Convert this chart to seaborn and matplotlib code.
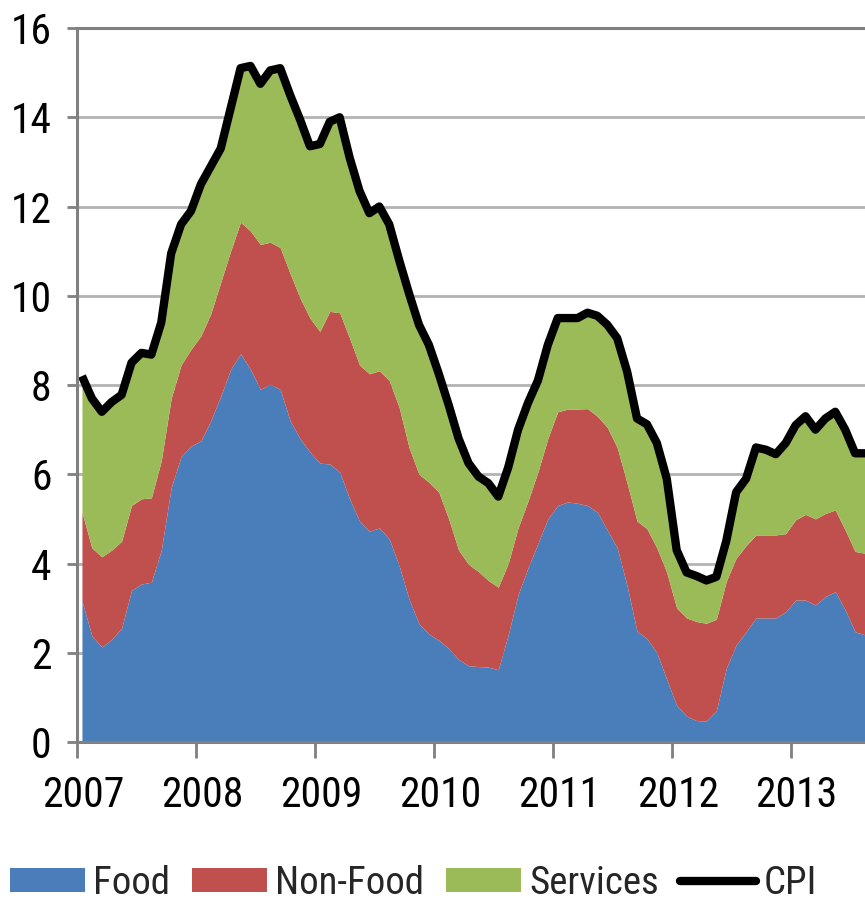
import numpy as np
import pandas as pd
import matplotlib
matplotlib.use("Agg")
import matplotlib.pyplot as plt
import seaborn as sns
from matplotlib import font_manager
from matplotlib.transforms import ScaledTranslation
from matplotlib.patches import Patch
from matplotlib.lines import Line2D

# ---------------- data (monthly, Jan 2007 - Aug 2013) ----------------
start_year = 2007
n_months = 80

food = [3.16, 2.38, 2.13, 2.30, 2.55, 3.40, 3.54, 3.58, 4.30, 5.70, 6.40, 6.63,
        6.75, 7.20, 7.75, 8.35, 8.70, 8.35, 7.90, 8.02, 7.90, 7.20, 6.80, 6.50,
        6.25, 6.23, 6.05, 5.45, 4.95, 4.72, 4.80, 4.55, 3.95, 3.20, 2.65, 2.42,
        2.28, 2.10, 1.85, 1.71, 1.69, 1.68, 1.62, 2.40, 3.30, 3.90, 4.45, 5.00,
        5.30, 5.38, 5.35, 5.30, 5.15, 4.75, 4.35, 3.50, 2.48, 2.32, 2.00, 1.40,
        0.82, 0.58, 0.48, 0.47, 0.70, 1.65, 2.18, 2.47, 2.78, 2.78, 2.78, 2.92,
        3.18, 3.18, 3.07, 3.26, 3.37, 2.96, 2.47, 2.40]

non_food = [1.99, 1.97, 2.02, 2.00, 1.95, 1.90, 1.91, 1.89, 2.00, 2.00, 2.05, 2.17,
            2.35, 2.40, 2.55, 2.65, 2.95, 3.10, 3.25, 3.18, 3.18, 3.30, 3.15, 3.00,
            2.95, 3.42, 3.57, 3.60, 3.50, 3.53, 3.52, 3.55, 3.55, 3.40, 3.35, 3.40,
            3.32, 2.90, 2.45, 2.27, 2.13, 1.94, 1.85, 1.60, 1.50, 1.50, 1.60, 1.80,
            2.10, 2.08, 2.11, 2.17, 2.15, 2.30, 2.25, 2.30, 2.47, 2.46, 2.35, 2.40,
            2.18, 2.20, 2.22, 2.19, 2.05, 1.95, 1.94, 1.93, 1.86, 1.86, 1.86, 1.75,
            1.80, 1.92, 1.93, 1.86, 1.83, 1.79, 1.80, 1.83]

services = [3.05, 3.35, 3.25, 3.32, 3.28, 3.20, 3.27, 3.21, 3.10, 3.25, 3.15, 3.10,
            3.40, 3.30, 3.00, 3.20, 3.45, 3.70, 3.60, 3.85, 4.02, 4.00, 4.00, 3.85,
            4.20, 4.25, 4.38, 4.05, 3.90, 3.60, 3.68, 3.50, 3.30, 3.45, 3.35, 3.08,
            2.65, 2.55, 2.50, 2.27, 2.13, 2.18, 2.03, 2.15, 2.20, 2.20, 2.05, 2.10,
            2.10, 2.04, 2.04, 2.15, 2.25, 2.30, 2.45, 2.50, 2.30, 2.34, 2.35, 2.10,
            1.30, 1.02, 1.02, 0.96, 0.95, 0.90, 1.48, 1.50, 1.96, 1.91, 1.81, 2.03,
            2.12, 2.20, 2.00, 2.13, 2.20, 2.25, 2.20, 2.24]

cpi = [8.20, 7.70, 7.40, 7.62, 7.78, 8.50, 8.72, 8.68, 9.40, 10.95, 11.60, 11.90,
       12.50, 12.90, 13.30, 14.20, 15.10, 15.15, 14.75, 15.05, 15.10, 14.50, 13.95, 13.35,
       13.40, 13.90, 14.00, 13.10, 12.35, 11.85, 12.00, 11.60, 10.80, 10.05, 9.35, 8.90,
       8.25, 7.55, 6.80, 6.25, 5.95, 5.80, 5.50, 6.15, 7.00, 7.60, 8.10, 8.90,
       9.50, 9.50, 9.50, 9.62, 9.55, 9.35, 9.05, 8.30, 7.25, 7.12, 6.70, 5.90,
       4.30, 3.80, 3.72, 3.62, 3.70, 4.50, 5.60, 5.90, 6.60, 6.55, 6.45, 6.70,
       7.10, 7.30, 7.00, 7.25, 7.40, 7.00, 6.47, 6.47]

year_ticks = [2007, 2008, 2009, 2010, 2011, 2012, 2013]
y_ticks = [0, 2, 4, 6, 8, 10, 12, 14, 16]
series_names = ["Food", "Non-Food", "Services", "CPI"]
colors = ["#4A7EBB", "#C0504D", "#9BBB59"]

months = pd.date_range(f"{start_year}-01-01", periods=n_months, freq="MS")
t = months.year + (months.month - 0.5) / 12.0
df = pd.DataFrame({"t": t, "food": food, "non_food": non_food,
                   "services": services, "cpi": cpi})

# ---------------- style ----------------
sns.set_theme(style="white")
avail = {f.name for f in font_manager.fontManager.ttflist}
font = next((f for f in ["Liberation Sans Narrow", "DejaVu Sans Condensed",
                         "Roboto Condensed", "Liberation Sans"] if f in avail),
            "DejaVu Sans")
plt.rcParams["font.family"] = [font, "DejaVu Sans"]

fig = plt.figure(figsize=(8.65, 9.05), dpi=100)
ax = fig.add_axes([77 / 865, 1 - 742 / 905, (865 - 77) / 865, (742 - 28) / 905])

ax.stackplot(df["t"], df["food"], df["non_food"], df["services"],
             colors=colors, linewidth=0)
sns.lineplot(data=df, x="t", y="cpi", ax=ax, color="black", linewidth=6,
             legend=False)
for ln in ax.lines:
    ln.set_solid_joinstyle("round")
    ln.set_solid_capstyle("butt")

ax.set_xlim(2007, 2013.625)
ax.set_ylim(0, 16)
ax.set_xticks(year_ticks)
ax.set_xticklabels([str(y) for y in year_ticks])
ax.set_yticks(y_ticks)
ax.set_yticklabels([str(v) for v in y_ticks])
ax.set_xlabel("")
ax.set_ylabel("")

ax.yaxis.grid(True, color="#B3B3B3", linewidth=2)
ax.xaxis.grid(False)
ax.set_axisbelow(True)

for side in ["left", "bottom", "top"]:
    ax.spines[side].set_visible(True)
    ax.spines[side].set_color("#808080")
    ax.spines[side].set_linewidth(2.2)
ax.spines["right"].set_visible(False)

ax.tick_params(axis="y", left=True, length=7.2, width=2, color="#808080",
               pad=11, labelsize=30, labelcolor="black", direction="out")
ax.tick_params(axis="x", bottom=True, length=11.5, width=2, color="#808080",
               pad=12, labelsize=30, labelcolor="black", direction="out")
offset = ScaledTranslation(6 / 100, 0, fig.dpi_scale_trans)
for lab in ax.get_xticklabels():
    lab.set_transform(lab.get_transform() + offset)

handles = [Patch(facecolor=colors[0], edgecolor="none"),
           Patch(facecolor=colors[1], edgecolor="none"),
           Patch(facecolor=colors[2], edgecolor="none"),
           Line2D([], [], color="black", linewidth=6)]
fig.legend(handles, series_names, loc="center", bbox_to_anchor=(0.478, 0.024),
           ncol=4, frameon=False, fontsize=28, handlelength=1.95,
           handleheight=0.57, handletextpad=0.2, columnspacing=0.55,
           borderaxespad=0, borderpad=0)

fig.savefig("out.png", dpi=100)
